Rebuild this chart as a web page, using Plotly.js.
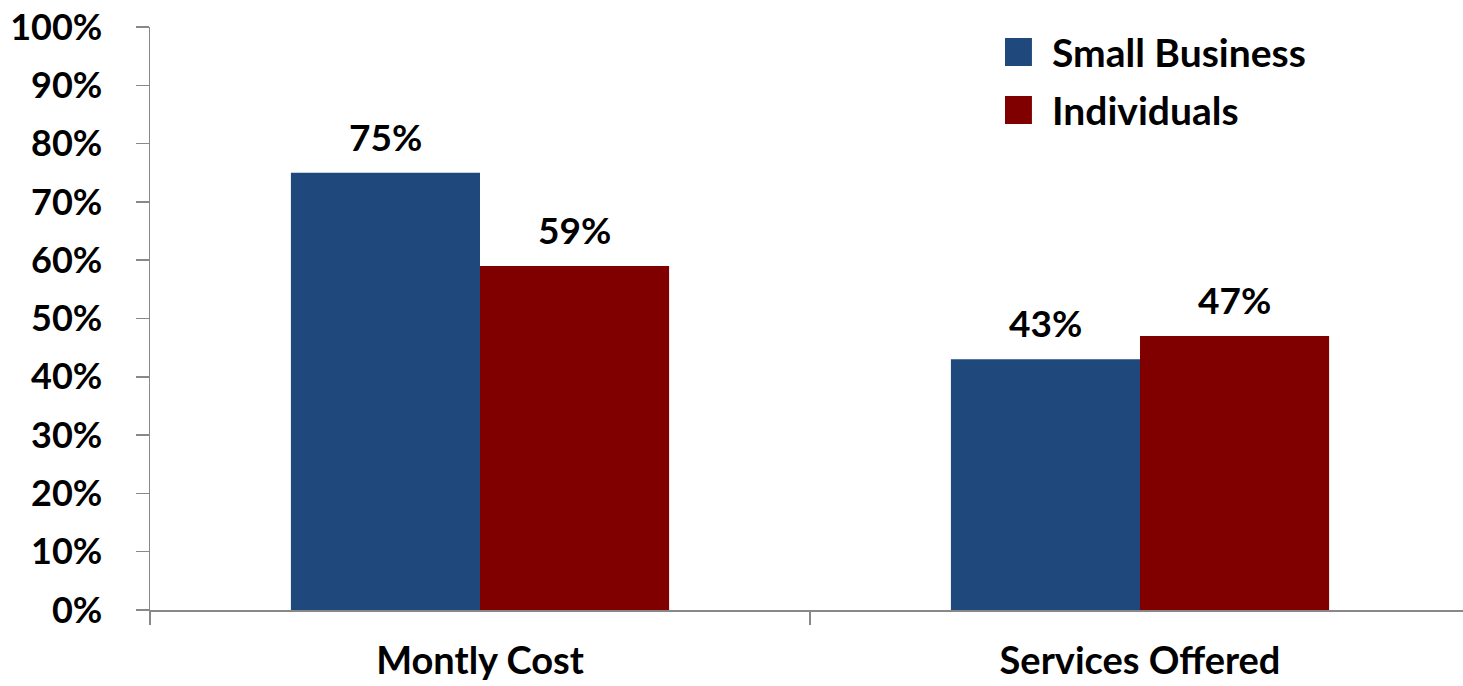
<!DOCTYPE html>
<html>
<head>
<meta charset="utf-8">
<script src="https://cdn.plot.ly/plotly-3.0.1.min.js"></script>
<style>html,body{margin:0;padding:0;background:#fff;}#chart{width:1463px;height:686px;}</style>
</head>
<body>
<div id="chart"></div>
<script>
const categories = ["Montly Cost", "Services Offered"];
const seriesNames = ["Small Business", "Individuals"];
const smallBusiness = [0.75, 0.43];
const individuals = [0.59, 0.47];
const yTickVals = [0, 0.1, 0.2, 0.3, 0.4, 0.5, 0.6, 0.7, 0.8, 0.9, 1.0];
const yTickText = ["0%", "10%", "20%", "30%", "40%", "50%", "60%", "70%", "80%", "90%", "100%"];

const colors = ["#1F497D", "#800000"];
const FONT = "Lato, 'Open Sans', sans-serif";
const series = [smallBusiness, individuals];

const traces = series.map((vals, i) => ({
  type: "bar",
  name: seriesNames[i],
  x: categories,
  y: vals,
  marker: {color: colors[i], line: {width: 0}},
  hoverinfo: "skip",
  showlegend: false
}));

const annotations = [];
const barHalf = 94.5;
series.forEach((vals, i) => {
  vals.forEach((v, j) => {
    annotations.push({
      x: categories[j], y: v, xref: "x", yref: "y",
      xshift: (i === 0 ? -1 : 1) * barHalf,
      yanchor: "bottom", yshift: 12,
      text: Math.round(v * 100) + "%",
      showarrow: false,
      font: {family: FONT, size: 37, color: "#000", weight: 700}
    });
  });
});

// custom legend
const shapes = [];
const legY = [[0.9811, 0.9331], [0.8817, 0.8336]];
const legTextY = [0.957, 0.858];
seriesNames.forEach((n, i) => {
  shapes.push({type: "rect", xref: "paper", yref: "paper",
    x0: 0.6512, x1: 0.6717, y0: legY[i][1], y1: legY[i][0],
    fillcolor: colors[i], line: {width: 0}});
  annotations.push({xref: "paper", yref: "paper", x: 0.6855, y: legTextY[i],
    xanchor: "left", yanchor: "middle", text: n, showarrow: false,
    font: {family: FONT, size: 39, color: "#000", weight: 700}});
});

const layout = {
  width: 1463, height: 686,
  margin: {l: 150, r: 0, t: 27, b: 76},
  paper_bgcolor: "#fff", plot_bgcolor: "#fff",
  barmode: "group",
  bargap: 0.427,
  bargroupgap: 0,
  showlegend: false,
  font: {family: FONT, color: "#000"},
  xaxis: {
    type: "category",
    range: [-0.5, 1.4894],
    tickson: "boundaries",
    ticks: "outside", ticklen: 13, tickwidth: 1.5, tickcolor: "#888",
    showline: true, linecolor: "#888", linewidth: 1.5,
    showgrid: false, zeroline: false,
    tickfont: {family: FONT, size: 38, color: "#000", weight: 700},
    ticklabelstandoff: 17,
    fixedrange: true
  },
  yaxis: {
    range: [0, 1],
    tickvals: yTickVals, ticktext: yTickText,
    ticks: "outside", ticklen: 13, tickwidth: 1.5, tickcolor: "#888",
    showline: true, linecolor: "#888", linewidth: 1.5,
    showgrid: false, zeroline: false,
    tickfont: {family: FONT, size: 36, color: "#000", weight: 700},
    ticklabelstandoff: 26,
    fixedrange: true
  },
  shapes: shapes,
  annotations: annotations
};

Plotly.newPlot("chart", traces, layout, {staticPlot: true, displayModeBar: false});
</script>
</body>
</html>
